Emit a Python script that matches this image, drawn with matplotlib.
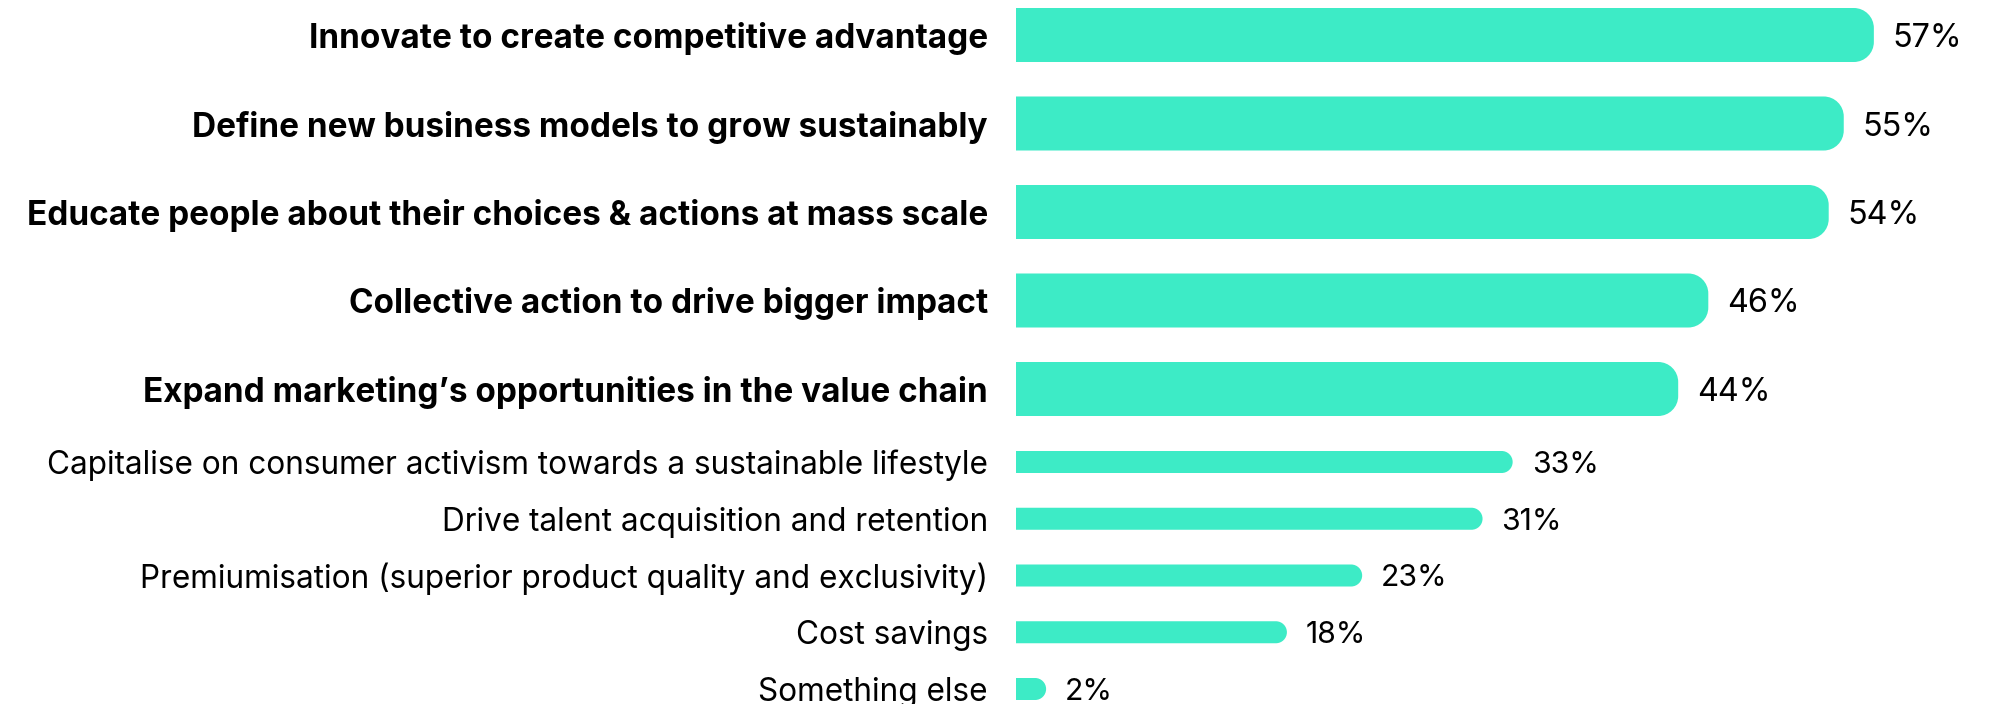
import matplotlib
matplotlib.use("Agg")
import matplotlib.pyplot as plt
from matplotlib.patches import PathPatch
from matplotlib.path import Path

# ---- data ----
categories = [
    "Innovate to create competitive advantage",
    "Define new business models to grow sustainably",
    "Educate people about their choices & actions at mass scale",
    "Collective action to drive bigger impact",
    "Expand marketing\u2019s opportunities in the value chain",
    "Capitalise on consumer activism towards a sustainable lifestyle",
    "Drive talent acquisition and retention",
    "Premiumisation (superior product quality and exclusivity)",
    "Cost savings",
    "Something else",
]
values = [57, 55, 54, 46, 44, 33, 31, 23, 18, 2]
value_labels = ["57%", "55%", "54%", "46%", "44%", "33%", "31%", "23%", "18%", "2%"]
n_highlight = 5

# ---- style / layout ----
W, H = 2005, 704
BAR_COLOR = "#3DEBC6"
FONT = "Inter"
x0_px = 1016
px_per_unit = 15.05

fig = plt.figure(figsize=(W / 100, H / 100), dpi=100)
fig.patch.set_facecolor("white")
ax = fig.add_axes([x0_px / W, 0, 1 - x0_px / W, 1])
ax.set_xlim(0, (W - x0_px) / px_per_unit)
ax.set_ylim(H, 0)
ax.axis("off")

ys, hs, radii = [], [], []
for i in range(len(values)):
    if i < n_highlight:
        ys.append(35 + 88.5 * i)
        hs.append(54)
        radii.append(20)
    else:
        ys.append(462 + 56.75 * (i - n_highlight))
        hs.append(22)
        radii.append(11)

K = 0.5523


def right_rounded(x, y, w, h, rx, ry):
    # square left side, rounded right corners (y axis in pixel units)
    xr = x + w
    verts = [
        (x, y),
        (xr - rx, y),
        (xr - rx + K * rx, y), (xr, y + ry - K * ry), (xr, y + ry),
        (xr, y + h - ry),
        (xr, y + h - ry + K * ry), (xr - rx + K * rx, y + h), (xr - rx, y + h),
        (x, y + h),
        (x, y),
    ]
    codes = [Path.MOVETO, Path.LINETO,
             Path.CURVE4, Path.CURVE4, Path.CURVE4,
             Path.LINETO,
             Path.CURVE4, Path.CURVE4, Path.CURVE4,
             Path.LINETO, Path.CLOSEPOLY]
    return Path(verts, codes)


bars = ax.barh(ys, values, height=hs, color=BAR_COLOR)
for rect, r in zip(bars.patches, radii):
    x, y, w, h = rect.get_x(), rect.get_y(), rect.get_width(), rect.get_height()
    rect.set_visible(False)
    rx = min(r / px_per_unit, w / 2)
    ax.add_patch(PathPatch(right_rounded(x, y, w, h, rx, r),
                           facecolor=BAR_COLOR, edgecolor="none"))

label_gap = 28 / px_per_unit
value_gap = 19 / px_per_unit

cat_texts, val_texts = [], []
for i, (cat, v, lab, y) in enumerate(zip(categories, values, value_labels, ys)):
    bold = i < n_highlight
    t = ax.text(-label_gap, y, cat, ha="right", va="center_baseline",
                fontsize=20, family=FONT,
                fontweight="bold" if bold else "normal", color="black",
                clip_on=False)
    cat_texts.append(t)
    vt = ax.text(v + value_gap, y, lab, ha="left", va="center_baseline",
                 fontsize=20, family=FONT, color="black")
    val_texts.append(vt)

# fit font sizes to the reference text widths
fig.canvas.draw()
rend = fig.canvas.get_renderer()


def fit(texts, target_px):
    w = sum(t.get_window_extent(rend).width for t in texts)
    s = texts[0].get_fontsize() * target_px / w
    for t in texts:
        t.set_fontsize(s)


fit(cat_texts[:n_highlight], 3914)
fit(cat_texts[n_highlight:], 941 + 551 + 848 + 187 + 231)
fit(val_texts[:n_highlight], 72 * 5)
fit(val_texts[n_highlight:], 64 * 4 + 47)

fig.savefig("out.png", dpi=100, facecolor="white")
